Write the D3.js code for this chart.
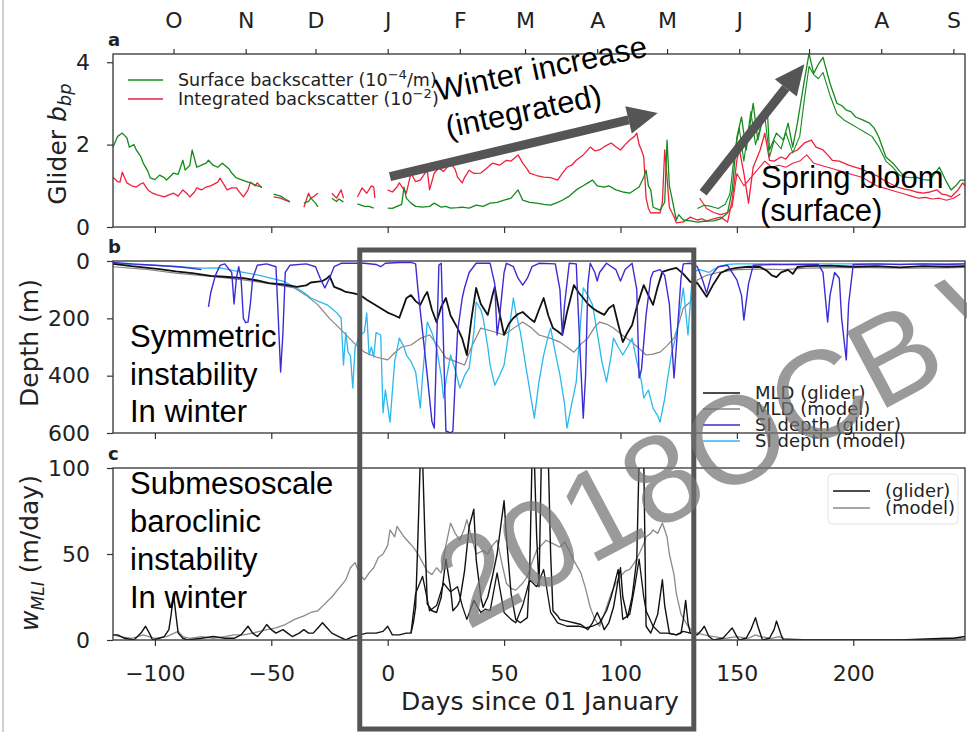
<!DOCTYPE html>
<html>
<head>
<meta charset="utf-8">
<script src="https://cdn.jsdelivr.net/npm/d3@7"></script>
<style>
body { margin: 0; background: #fff; }
svg { display: block; }
.ann { font-family: "Liberation Sans", Arial, sans-serif; font-size: 31px; fill: #000; }
.lab { font-family: "DejaVu Sans", sans-serif; fill: #222; }
</style>
</head>
<body>
<svg id="chart" width="967" height="732"></svg>
<script>
// ---- data (day = days since 01 January) ----
var monthDays = [-92, -61, -31, 0, 31, 59, 90, 120, 151, 181, 212, 243];
var monthLabels = ["O", "N", "D", "J", "F", "M", "A", "M", "J", "J", "A", "S"];
var dayTicks = [-100, -50, 0, 50, 100, 150, 200];

// panel a : glider backscatter
var surfaceBbp = [[-118,1.94],[-116,2.2],[-114,2.28],[-112,2.16],[-111,1.94],[-109,2.0],[-108,1.87],[-106,1.7],[-105,1.55],[-103,1.35],[-102,1.19],[-100,1.15],[-98,1.26],[-96,1.2],[-95,1.14],[-93,1.25],[-92,1.31],[-90,1.28],[-88,1.62],[-87,1.38],[-85,1.5],[-84,1.87],[-82,1.45],[-80,1.5],[-78,1.55],[-77,1.62],[-75,1.5],[-73,1.45],[-71,1.55],[-70,1.5],[-68,1.4],[-67,1.31],[-65,1.19],[-63,1.15],[-60,1.09],[-58,1.05],[-56,1.0],[-54,0.97],[-53,null],[-49,0.8],[-46,0.75],[-44,0.68],[-42,0.61],[-40,null],[-36,0.58],[-34,0.62],[-33,0.7],[-31,0.58],[-30,0.49],[-28,null],[-24,0.7],[-22,0.62],[-21,0.68],[-19,0.61],[-17,null],[-13,0.56],[-10,0.5],[-8,0.5],[-6,0.46],[-4,null],[0,0.46],[2,0.45],[4,0.5],[6,0.55],[7,0.97],[8,0.7],[10,0.58],[12,0.5],[15,0.48],[18,0.5],[20,0.58],[23,0.48],[25,0.5],[27,0.46],[30,0.47],[32,0.48],[35,0.46],[38,0.53],[41,0.5],[44,0.58],[47,0.6],[50,0.65],[53,0.7],[56,0.9],[58,0.65],[61,0.6],[64,0.58],[67,0.55],[70,0.53],[73,0.6],[75,0.65],[78,0.75],[81,0.9],[84,1.0],[86,1.07],[88,1.14],[90,1.0],[93,0.97],[95,1.0],[98,0.9],[101,0.85],[104,0.82],[106,0.9],[108,0.97],[110,1.21],[111,1.38],[112,1.0],[113,0.9],[114,0.48],[117,0.41],[119,0.6],[120,2.11],[121,1.0],[122,0.73],[124,0.17],[125,0.3],[127,0.17],[130,0.15],[133,0.12],[136,0.14],[140,0.15],[143,0.2],[146,0.34],[148,0.9],[150,2.18],[152,2.67],[154,1.87],[157,3.0],[159,2.11],[161,2.59],[163,2.91],[164,1.87],[167,2.28],[170,2.11],[172,2.52],[174,1.94],[176,2.52],[179,3.56],[181,4.21],[183,3.73],[185,3.95],[187,4.12],[190,3.49],[193,3.0],[195,2.95],[197,2.84],[199,2.8],[201,2.67],[204,2.6],[207,2.52],[209,2.4],[211,2.18],[214,1.7],[217,1.55],[220,1.35],[222,1.21],[225,1.2],[227,1.21],[230,1.15],[233,1.14],[235,1.3],[237,1.45],[240,1.1],[242,0.9],[244,1.0],[246,1.14],[248,1.14]];
var surfaceBbp2 = [[133,0.45],[136,0.53],[139,0.5],[142,0.45],[145,0.55],[147,0.8],[149,1.8],[151,2.4],[153,1.6],[156,2.8],[158,2.0],[160,2.4],[162,2.7],[164,1.7],[166,2.1],[169,1.9],[171,2.3],[174,1.8],[177,2.2],[179,3.1],[181,3.9],[183,3.7],[185,3.6],[187,3.75],[190,3.2],[193,2.75],[196,2.6],[199,2.5],[202,2.4],[205,2.3],[208,2.2],[211,1.95],[214,1.6],[217,1.45],[220,1.25],[223,1.2]];
var integratedBbp = [[-118,1.21],[-116,1.1],[-115,1.09],[-114,1.33],[-112,1.07],[-110,1.0],[-108,0.97],[-106,1.05],[-105,1.07],[-103,0.9],[-101,0.82],[-99,0.78],[-96,0.73],[-94,0.78],[-92,0.82],[-90,0.75],[-88,0.9],[-86,0.8],[-85,0.73],[-83,0.85],[-82,0.95],[-80,0.9],[-78,0.97],[-76,1.0],[-73,1.09],[-72,1.19],[-70,1.0],[-69,0.9],[-67,0.95],[-65,0.95],[-63,0.8],[-62,0.73],[-60,0.9],[-59,1.09],[-57,1.0],[-56,1.07],[-54,0.95],[-53,null],[-49,0.73],[-46,0.7],[-44,0.65],[-42,0.61],[-40,null],[-36,0.48],[-34,0.82],[-33,0.7],[-32,0.73],[-30,0.82],[-28,null],[-24,0.82],[-22,0.7],[-20,0.9],[-19,0.7],[-17,null],[-13,0.73],[-11,0.95],[-9,0.82],[-7,1.0],[-6,0.97],[-5.5,0.7],[-4,null],[0,0.9],[2,0.85],[4,0.97],[5,1.07],[7,0.9],[8,0.82],[10,1.31],[12,1.1],[14,1.14],[16,1.3],[17,1.38],[18,0.9],[20,1.31],[22,1.43],[24,1.35],[27,1.55],[29,1.4],[30,1.21],[32,1.07],[33,1.2],[35,1.38],[37,1.3],[40,1.31],[42,1.4],[45,1.55],[48,1.5],[51,1.62],[53,1.6],[56,1.75],[58,1.55],[60,1.4],[61,1.31],[64,1.25],[67,1.21],[70,1.2],[73,1.14],[75,1.3],[77,1.45],[79,1.5],[81,1.62],[84,1.75],[87,1.94],[89,1.85],[91,1.87],[93,1.95],[96,2.04],[98,1.95],[100,1.87],[102,2.0],[104,2.11],[106,2.2],[107,2.28],[108,2.0],[109,1.87],[110,1.7],[111,0.7],[112,0.45],[113,0.34],[115,0.35],[117,0.34],[118,0.6],[119,1.87],[120,1.2],[121,0.48],[123,0.25],[124,0.1],[126,0.12],[127,0.12],[130,0.24],[133,0.17],[135,0.2],[137,0.15],[140,0.2],[143,0.24],[146,0.12],[148,0.65],[150,1.62],[151,1.9],[153,1.31],[155,0.58],[157,1.45],[160,1.87],[162,2.28],[164,1.62],[166,1.6],[169,1.7],[171,1.65],[173,1.79],[176,1.87],[179,2.04],[182,2.11],[184,1.94],[187,1.87],[189,1.75],[191,1.62],[194,1.6],[196,1.55],[198,1.5],[201,1.45],[204,1.4],[207,1.31],[210,1.25],[213,1.14],[216,1.05],[219,0.97],[222,0.92],[224,0.9],[227,0.85],[230,0.82],[233,0.85],[236,0.9],[238,0.8],[240,0.78],[242,0.73],[245,0.9],[247,1.07],[248,1.0]];
var integratedBbp2 = [[134,0.7],[137,0.45],[140,0.35],[143,0.3],[146,0.35],[148,0.5],[150,1.3],[153,1.0],[156,1.2],[159,1.4],[162,1.6],[165,1.45],[168,1.5],[171,1.45],[174,1.55],[177,1.6],[180,1.75],[183,1.55],[186,1.5],[189,1.45],[192,1.4],[195,1.35],[198,1.3],[201,1.25],[204,1.2],[207,1.1],[210,1.0],[213,0.95],[216,0.9],[219,0.85],[222,0.8],[225,0.75],[228,0.7],[231,0.72],[234,0.68],[237,0.7],[240,0.65],[243,0.7],[246,0.8]];

// panel b : depths (m)
var mldGlider = [[-118,10],[-110,18],[-105,22],[-98,28],[-91,36],[-84,42],[-76,52],[-70,55],[-62,60],[-56,68],[-51,77],[-45,82],[-39,90],[-35,85],[-33,75],[-30,72],[-28,70],[-26,60],[-25,52],[-23,90],[-20,100],[-18,108],[-15,112],[-12,118],[-9,135],[-6,150],[-3,165],[0,180],[3,190],[5,198],[7,153],[8,130],[10,119],[12,140],[14,153],[16,120],[17,108],[19,170],[21,213],[23,160],[25,129],[27,190],[30,234],[32,270],[34,328],[36,200],[38,94],[40,150],[43,188],[45,120],[46,91],[48,180],[50,258],[52,220],[54,199],[56,185],[58,178],[61,200],[63,213],[65,170],[67,129],[69,190],[71,234],[73,245],[75,258],[77,180],[80,84],[82,110],[84,129],[86,150],[88,164],[90,175],[93,188],[95,165],[97,153],[99,220],[101,283],[103,250],[105,223],[107,160],[110,84],[112,120],[114,153],[116,90],[118,38],[121,30],[124,24],[127,45],[130,73],[133,77],[135,100],[137,125],[140,80],[143,42],[146,30],[150,24],[155,20],[160,21],[163,35],[165,50],[167,56],[169,40],[172,31],[174,45],[176,21],[180,18],[190,16],[200,20],[210,18],[220,22],[230,18],[240,20],[248,18]];
var mldModel = [[-118,20],[-105,28],[-91,42],[-75,55],[-62,66],[-50,80],[-40,94],[-35,120],[-30,153],[-25,200],[-19,248],[-14,290],[-10,318],[-5,335],[0,345],[3,320],[6,300],[10,293],[14,270],[18,258],[22,300],[25,338],[29,350],[33,363],[36,300],[40,234],[45,245],[50,258],[54,235],[58,213],[62,235],[65,258],[70,270],[74,283],[77,300],[80,318],[83,290],[86,269],[89,230],[91,213],[94,220],[97,234],[101,260],[105,283],[108,305],[111,328],[114,325],[117,318],[120,295],[123,269],[125,220],[127,164],[130,143],[133,66],[137,50],[142,40],[150,30],[160,28],[170,30],[180,25],[200,22],[220,25],[240,24],[248,22]];
var siGlider = [[-118,5],[-110,10],[-100,15],[-90,20],[-85,25],[-80,30],[-79,null],[-77,160],[-76,110],[-74,50],[-72,15],[-70,10],[-67,40],[-66,150],[-65,60],[-64,20],[-63,60],[-62,200],[-61,215],[-60,213],[-59,150],[-58,60],[-56,15],[-52,10],[-48,20],[-47,200],[-46,387],[-45,250],[-44,40],[-42,15],[-35,10],[-31,20],[-29,60],[-27,94],[-25,60],[-23,20],[-20,8],[-10,8],[-5,12],[-3,20],[-1,8],[5,5],[10,5],[12,10],[13,100],[15,248],[17,400],[19,560],[20,583],[21,300],[22,14],[23,8],[24,300],[25,593],[27,600],[28,593],[29,420],[30,248],[32,130],[33,94],[35,40],[38,8],[44,8],[46,80],[47,258],[48,200],[50,40],[51,8],[54,20],[56,60],[58,84],[60,60],[62,20],[65,8],[72,10],[74,100],[75,258],[76,150],[78,8],[81,10],[82,200],[84,548],[85,400],[86,80],[87,8],[89,40],[90,70],[91,40],[94,8],[98,30],[100,70],[102,30],[105,8],[107,100],[108,408],[109,380],[111,188],[113,60],[114,38],[117,30],[119,50],[121,150],[123,408],[124,300],[126,60],[127,10],[130,8],[133,20],[135,60],[137,112],[139,50],[142,20],[146,15],[150,66],[152,120],[153,206],[155,80],[157,15],[165,12],[175,12],[185,12],[187,40],[189,213],[190,120],[192,40],[194,60],[195,200],[197,345],[198,150],[200,12],[210,10],[220,12],[230,10],[240,12],[248,10]];
var siModel = [[-118,8],[-110,12],[-100,15],[-90,20],[-80,25],[-72,24],[-65,35],[-55,50],[-45,70],[-40,90],[-36,110],[-33,129],[-30,140],[-26,153],[-22,180],[-20,199],[-19,363],[-18,250],[-17,318],[-16,330],[-15,443],[-14,300],[-12,260],[-10,248],[-9,181],[-8,328],[-7,300],[-6,335],[-5,250],[-3,258],[-2,530],[-1,450],[1,562],[3,350],[5,269],[7,300],[8,328],[10,350],[12,387],[13,450],[14,513],[15,400],[17,213],[19,250],[21,304],[23,400],[24,478],[25,420],[27,328],[29,380],[31,443],[33,400],[35,373],[37,250],[38,143],[40,170],[41,199],[43,300],[44,363],[46,433],[48,400],[50,363],[52,250],[54,129],[55,180],[57,248],[59,350],[61,450],[63,548],[65,420],[67,328],[69,260],[70,234],[72,320],[74,398],[76,500],[77,583],[79,500],[81,422],[83,200],[84,94],[86,120],[88,153],[90,250],[92,350],[94,422],[96,330],[97,269],[99,300],[101,328],[103,300],[105,269],[107,350],[109,420],[110,478],[112,450],[114,513],[116,540],[117,562],[119,480],[120,422],[122,320],[124,258],[126,150],[127,94],[129,258],[131,38],[134,30],[138,40],[142,20],[146,12],[150,10],[160,10],[170,12],[180,10],[200,10],[220,12],[240,10],[248,10]];

// panel c : w_MLI (m/day)
var wGlider = [[-118,3],[-116,3],[-113,1],[-109,0],[-106,4],[-104,8],[-102,3],[-101,0],[-98,1],[-96,2],[-94,6],[-93,15],[-92,27],[-91,15],[-90,4],[-88,1],[-86,0],[-80,1],[-75,2],[-70,1],[-66,1],[-63,3],[-60,8],[-58,4],[-56,2],[-54,5],[-52,9],[-50,6],[-48,4],[-45,6],[-43,4],[-41,2],[-38,4],[-36,6],[-34,4],[-32,4],[-30,7],[-28,10],[-26,7],[-24,4],[-21,2],[-18,0],[-15,2],[-12,3],[-9,4],[-5,4],[-2,5],[0,8],[2,3],[5,3],[8,4],[10,4],[11,10],[12,19],[13,60],[14,105],[15,105],[16,60],[17,21],[19,17],[21,16],[23,25],[25,47],[27,30],[28,17],[30,20],[31,23],[33,40],[35,66],[37,76],[38,47],[40,25],[41,19],[43,25],[45,37],[47,50],[50,81],[51,60],[53,27],[55,12],[57,10],[60,13],[61,40],[62,105],[63,105],[64,60],[65,31],[66,105],[67,105],[68,105],[69,105],[70,50],[71,17],[73,14],[74,12],[77,11],[80,10],[83,9],[86,6],[88,10],[90,16],[92,10],[93,6],[95,10],[97,19],[99,35],[100,42],[101,25],[103,13],[105,25],[107,47],[108,105],[110,105],[111,8],[113,4],[116,15],[118,35],[119,20],[121,4],[124,3],[126,4],[127,12],[128,23],[129,10],[130,4],[133,3],[135,6],[136,8],[138,2],[140,0],[144,1],[146,4],[148,7],[150,2],[151,0],[154,1],[156,6],[158,13],[159,8],[161,0],[164,1],[166,6],[167,11],[169,3],[170,0],[180,0],[200,0],[220,0],[240,1],[243,1],[248,2]];
var wGlider2 = [[10,4],[12,27],[15,37],[18,17],[21,20],[24,33],[27,28],[30,31],[32,20],[34,12],[37,23],[40,16],[42,18],[44,17],[47,39],[50,16],[53,12],[55,10],[58,20],[61,35],[64,31],[67,41],[70,16],[73,10],[77,8],[82,8],[85,7],[88,8],[91,10],[94,17],[96,25],[99,41],[101,12],[104,15],[106,30],[108,47],[110,25],[111,17],[114,8],[117,4],[120,4],[124,3],[127,5],[130,4]];
var wModel = [[-118,3],[-115,2],[-110,1],[-105,3],[-100,1],[-95,2],[-90,5],[-88,2],[-85,1],[-80,2],[-75,1],[-70,2],[-66,3],[-62,3],[-58,4],[-55,5],[-52,6],[-48,7],[-44,9],[-40,12],[-36,14],[-33,16],[-30,17],[-27,21],[-24,25],[-21,30],[-18,35],[-16,42],[-14,45],[-12,38],[-10,35],[-8,39],[-6,42],[-4,48],[-2,50],[0,55],[1,64],[3,60],[4,66],[6,62],[7,60],[9,57],[11,54],[13,50],[15,45],[17,40],[19,38],[21,42],[23,39],[25,55],[27,68],[29,62],[31,58],[33,65],[34,70],[36,60],[38,50],[41,52],[43,50],[45,55],[47,58],[49,45],[51,33],[53,30],[55,29],[58,33],[60,37],[62,45],[64,52],[66,55],[68,58],[71,56],[74,54],[76,57],[78,52],[80,46],[83,39],[85,30],[87,19],[89,12],[91,8],[93,15],[96,27],[98,33],[100,37],[102,40],[104,41],[106,45],[108,50],[110,56],[111,60],[113,62],[114,64],[116,62],[118,68],[120,60],[121,50],[123,38],[124,27],[126,15],[129,8],[131,5],[133,4],[136,3],[140,2],[145,1],[150,2],[155,1],[158,3],[160,2],[165,1],[168,2],[170,1],[180,0],[200,0],[230,0],[248,1]];

// annotation arrows in panel-a data coordinates [day, value]
var arrowWinter = [[1, 1.22], [116, 2.77]];
var arrowBloom = [[135.5, 0.83], [179, 3.95]];

// ---- layout ----
var svg = d3.select("#chart");
var x = d3.scaleLinear().domain([-118, 248]).range([113, 965]);
var yA = d3.scaleLinear().domain([0, 4.2]).range([227, 54]);
var yB = d3.scaleLinear().domain([0, 600]).range([261, 433]);
var yC = d3.scaleLinear().domain([0, 100]).range([640, 468]);

svg.append("rect").attr("width", 967).attr("height", 732).attr("fill", "#fff");
svg.append("line").attr("x1", 3).attr("x2", 3).attr("y1", 0).attr("y2", 732)
	.attr("stroke", "#cfcfcf").attr("stroke-width", 2);

function styleAxis(g) {
	g.attr("font-family", "DejaVu Sans").attr("font-size", 22);
	g.select(".domain").remove();
	g.selectAll(".tick line").attr("stroke", "#333").attr("stroke-width", 1.2);
	g.selectAll(".tick text").attr("fill", "#222");
}

// draw one panel: frame, clipped lines, ticks
function panel(name, y, yTicks, series, showDayLabels) {
	var r = y.range();
	var top = Math.min(r[0], r[1]), bottom = Math.max(r[0], r[1]);
	svg.append("clipPath").attr("id", "clip-" + name)
		.append("rect").attr("x", 113).attr("y", top).attr("width", 852).attr("height", bottom - top);

	var line = d3.line()
		.defined(function (d) { return d[1] != null; })
		.x(function (d) { return x(d[0]); })
		.y(function (d) { return y(d[1]); });

	var g = svg.append("g").attr("clip-path", "url(#clip-" + name + ")");
	series.forEach(function (s) {
		g.append("path").datum(s.data).attr("d", line)
			.attr("fill", "none").attr("stroke", s.color)
			.attr("stroke-width", s.width || 1.3).attr("stroke-linejoin", "round");
	});

	svg.append("rect").attr("x", 113).attr("y", top).attr("width", 852).attr("height", bottom - top)
		.attr("fill", "none").attr("stroke", "#333").attr("stroke-width", 1.3);

	svg.append("g").attr("transform", "translate(113,0)")
		.call(d3.axisLeft(y).tickValues(yTicks).tickSize(6).tickPadding(17).tickFormat(d3.format("d")))
		.call(styleAxis);

	var bx = d3.axisBottom(x).tickValues(dayTicks).tickSize(6).tickPadding(19);
	if (!showDayLabels) bx.tickFormat("");
	svg.append("g").attr("transform", "translate(0," + bottom + ")").call(bx).call(styleAxis);

	svg.append("text").attr("class", "lab").attr("x", 108).attr("y", top - 8)
		.attr("font-size", 18).attr("font-weight", "bold").attr("fill", "#111").text(name);
}

panel("a", yA, [0, 2, 4], [
	{ data: integratedBbp, color: "#f0203c" },
	{ data: integratedBbp2, color: "#f0203c", width: 1.1 },
	{ data: surfaceBbp, color: "#168a1e" },
	{ data: surfaceBbp2, color: "#168a1e", width: 1.1 }
], false);

panel("b", yB, [0, 200, 400, 600], [
	{ data: mldModel, color: "#8c8080", width: 1.2 },
	{ data: siModel, color: "#2bb8ee", width: 1.3 },
	{ data: mldGlider, color: "#111", width: 1.8 },
	{ data: siGlider, color: "#3b2cd6", width: 1.4 }
], false);

panel("c", yC, [0, 50, 100], [
	{ data: wModel, color: "#8a8a8a", width: 1.3 },
	{ data: wGlider2, color: "#111", width: 1.3 },
	{ data: wGlider, color: "#111", width: 1.4 }
], true);

// month axis on top of panel a
svg.append("g").attr("transform", "translate(0,54)")
	.call(d3.axisTop(x).tickValues(monthDays).tickSize(5).tickPadding(21)
		.tickFormat(function (d, i) { return monthLabels[i]; }))
	.call(styleAxis);

// axis titles
var t1 = svg.append("text").attr("class", "lab").attr("font-size", 25).attr("text-anchor", "middle")
	.attr("transform", "translate(66,144) rotate(-90)");
t1.append("tspan").text("Glider ");
t1.append("tspan").attr("font-style", "italic").text("b");
t1.append("tspan").attr("font-style", "italic").attr("font-size", 18).attr("dy", 5).text("bp");

svg.append("text").attr("class", "lab").attr("font-size", 25).attr("text-anchor", "middle")
	.attr("transform", "translate(38,343) rotate(-90)").text("Depth (m)");

var t3 = svg.append("text").attr("class", "lab").attr("font-size", 25).attr("text-anchor", "middle")
	.attr("transform", "translate(38,553) rotate(-90)");
t3.append("tspan").attr("font-style", "italic").text("w");
t3.append("tspan").attr("font-style", "italic").attr("font-size", 17).attr("dy", 6).text("MLI");
t3.append("tspan").attr("dy", -6).text(" (m/day)");

svg.append("text").attr("class", "lab").attr("font-size", 25).attr("text-anchor", "middle")
	.attr("x", 540).attr("y", 710).text("Days since 01 January");

// legends
function legend(items, lx, ly, dyRow, len, fs) {
	items.forEach(function (it, i) {
		var yy = ly + i * dyRow;
		svg.append("line").attr("x1", lx).attr("x2", lx + len).attr("y1", yy).attr("y2", yy)
			.attr("stroke", it.color).attr("stroke-width", 1.5);
		var t = svg.append("text").attr("class", "lab").attr("font-size", fs)
			.attr("x", lx + len + 15).attr("y", yy + fs * 0.36);
		it.parts.forEach(function (p) {
			var ts = t.append("tspan").text(p.t);
			if (p.sup) ts.attr("font-size", fs * 0.75).attr("dy", -7);
			if (p.down) ts.attr("dy", 7);
		});
	});
}
legend([
	{ color: "#168a1e", parts: [{ t: "Surface backscatter (10" }, { t: "\u22124", sup: true }, { t: "/m)", down: true }] },
	{ color: "#f0203c", parts: [{ t: "Integrated backscatter (10" }, { t: "\u22122", sup: true }, { t: ")", down: true }] }
], 128, 80, 19, 35, 17.5);

legend([
	{ color: "#111", parts: [{ t: "MLD (glider)" }] },
	{ color: "#8c8080", parts: [{ t: "MLD (model)" }] },
	{ color: "#3b2cd6", parts: [{ t: "SI depth (glider)" }] },
	{ color: "#2bb8ee", parts: [{ t: "SI depth (model)" }] }
], 703, 393, 16, 37, 18);

svg.append("rect").attr("x", 828).attr("y", 474).attr("width", 130).attr("height", 50).attr("rx", 4)
	.attr("fill", "none").attr("stroke", "#e4e4e4");
legend([
	{ color: "#111", parts: [{ t: "(glider)" }] },
	{ color: "#8a8a8a", parts: [{ t: "(model)" }] }
], 833, 491, 17, 37, 18);

// highlight box over the winter period
svg.append("rect").attr("x", x(-12)).attr("y", 250).attr("width", x(131.5) - x(-12)).attr("height", 479)
	.attr("fill", "none").attr("stroke", "#555").attr("stroke-width", 5);

// thick annotation arrows
function arrow(pts) {
	var x0 = x(pts[0][0]), y0 = yA(pts[0][1]), x1 = x(pts[1][0]), y1 = yA(pts[1][1]);
	var a = Math.atan2(y1 - y0, x1 - x0), hl = 30, hw = 14;
	var bx = x1 - hl * Math.cos(a), by = y1 - hl * Math.sin(a);
	svg.append("line").attr("x1", x0).attr("y1", y0).attr("x2", bx).attr("y2", by)
		.attr("stroke", "#555").attr("stroke-width", 9);
	svg.append("path").attr("fill", "#555").attr("d",
		"M" + x1 + "," + y1 +
		"L" + (bx + hw * Math.sin(a)) + "," + (by - hw * Math.cos(a)) +
		"L" + (bx - hw * Math.sin(a)) + "," + (by + hw * Math.cos(a)) + "Z");
}
arrow(arrowWinter);
arrow(arrowBloom);

svg.append("text").attr("class", "ann").attr("transform", "translate(438,101) rotate(-12)").text("Winter increase");
svg.append("text").attr("class", "ann").attr("transform", "translate(448,138) rotate(-12)").text("(integrated)");
svg.append("text").attr("class", "ann").attr("x", 761).attr("y", 188).text("Spring bloom");
svg.append("text").attr("class", "ann").attr("x", 760).attr("y", 221).text("(surface)");

[["Symmetric", 347], ["instability", 385], ["In winter", 422]].forEach(function (d) {
	svg.append("text").attr("class", "ann").attr("x", 130).attr("y", d[1]).text(d[0]);
});
[["Submesoscale", 494], ["baroclinic", 532], ["instability", 570], ["In winter", 608]].forEach(function (d) {
	svg.append("text").attr("class", "ann").attr("x", 130).attr("y", d[1]).text(d[0]);
});

// watermark
svg.append("text").attr("font-family", "Liberation Sans, Arial, sans-serif").attr("font-size", 125)
	.attr("fill", "#737373").attr("fill-opacity", 0.72)
	.attr("transform", "translate(467,631) rotate(-28)").text("2018OCB\u2009Workshop");
</script>
</body>
</html>
